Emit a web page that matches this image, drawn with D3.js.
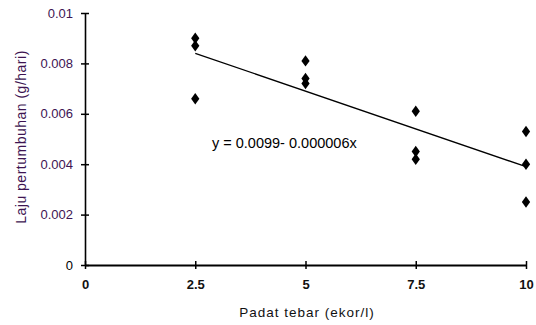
<!DOCTYPE html>
<html>
<head>
<meta charset="utf-8">
<script src="https://cdn.jsdelivr.net/npm/d3@7"></script>
<style>
body{margin:0;background:#fff;}
text{font-family:"Liberation Sans", Arial, sans-serif;}
</style>
</head>
<body>
<svg id="chart" width="536" height="325"></svg>
<script>
// padat tebar vs laju pertumbuhan
var xTicks = [0, 2.5, 5, 7.5, 10];
var xTickLabels = ["0", "2.5", "5", "7.5", "10"];
var yTicks = [0, 0.002, 0.004, 0.006, 0.008, 0.01];
var yTickLabels = ["0", "0.002", "0.004", "0.006", "0.008", "0.01"];

var density = [2.5, 2.5, 2.5, 5, 5, 5, 7.5, 7.5, 7.5, 10, 10, 10];
var growth = [0.0090, 0.0087, 0.0066, 0.0081, 0.0074, 0.0072, 0.0061, 0.0045, 0.0042, 0.0053, 0.0040, 0.0025];

// trend line (intercept, slope) and its x range
var trendCoef = [0.0099, -0.0006];
var trendRange = [2.5, 10];
var equationText = "y = 0.0099- 0.000006x";

var svg = d3.select("#chart");

var x = d3.scaleLinear().domain([0, 10]).range([85, 526]);
var y = d3.scaleLinear().domain([0, 0.01]).range([265, 13]);

var purple = "#3d1452";

// y axis
var yAxis = d3.axisLeft(y)
	.tickValues(yTicks)
	.tickFormat(function(d, i){ return yTickLabels[i]; })
	.tickSizeInner(4)
	.tickSizeOuter(0)
	.tickPadding(6);

var gy = svg.append("g")
	.attr("transform", "translate(" + x(0) + ",0)")
	.call(yAxis);
gy.select(".domain").attr("stroke", "#000").attr("stroke-width", 1.6);
gy.selectAll(".tick line").attr("x2", 4).attr("x1", -4).attr("stroke", "#000").attr("stroke-width", 1.5);
gy.selectAll(".tick text")
	.attr("x", -12)
	.attr("font-size", 13)
	.attr("fill", function(d){ return d === 0 ? "#000" : purple; });

// x axis
var xAxis = d3.axisBottom(x)
	.tickValues(xTicks)
	.tickFormat(function(d, i){ return xTickLabels[i]; })
	.tickSizeInner(4)
	.tickSizeOuter(0)
	.tickPadding(11);

var gx = svg.append("g")
	.attr("transform", "translate(0," + y(0) + ")")
	.call(xAxis);
gx.select(".domain").attr("stroke", "#000").attr("stroke-width", 2);
gx.selectAll(".tick line").attr("y1", -4).attr("y2", 4).attr("stroke", "#000").attr("stroke-width", 1.5);
gx.selectAll(".tick text").attr("font-size", 13).attr("font-weight", "bold").attr("fill", "#111");

// axis titles
svg.append("text")
	.attr("x", 307)
	.attr("y", 317)
	.attr("text-anchor", "middle")
	.attr("font-size", 13.5)
	.attr("letter-spacing", 1)
	.attr("fill", "#111")
	.text("Padat tebar (ekor/l)");

svg.append("text")
	.attr("transform", "translate(26,137) rotate(-90)")
	.attr("text-anchor", "middle")
	.attr("font-size", 14)
	.attr("letter-spacing", 0.5)
	.attr("fill", purple)
	.text("Laju pertumbuhan (g/hari)");

// trend line
var line = d3.line()
	.x(function(d){ return x(d); })
	.y(function(d){ return y(trendCoef[0] + trendCoef[1] * d); });

svg.append("path")
	.datum(trendRange)
	.attr("d", line)
	.attr("fill", "none")
	.attr("stroke", "#000")
	.attr("stroke-width", 1.3);

// points
var diamond = d3.symbol().type(d3.symbolDiamond).size(38);
svg.selectAll(".pt")
	.data(density)
	.enter()
	.append("path")
	.attr("class", "pt")
	.attr("d", diamond)
	.attr("transform", function(d, i){
		return "translate(" + x(d) + "," + y(growth[i]) + ") scale(1.25,1)";
	})
	.attr("fill", "#000");

svg.append("text")
	.attr("x", 212)
	.attr("y", 148)
	.attr("font-size", 14.5)
	.attr("fill", "#000")
	.text(equationText);
</script>
</body>
</html>
